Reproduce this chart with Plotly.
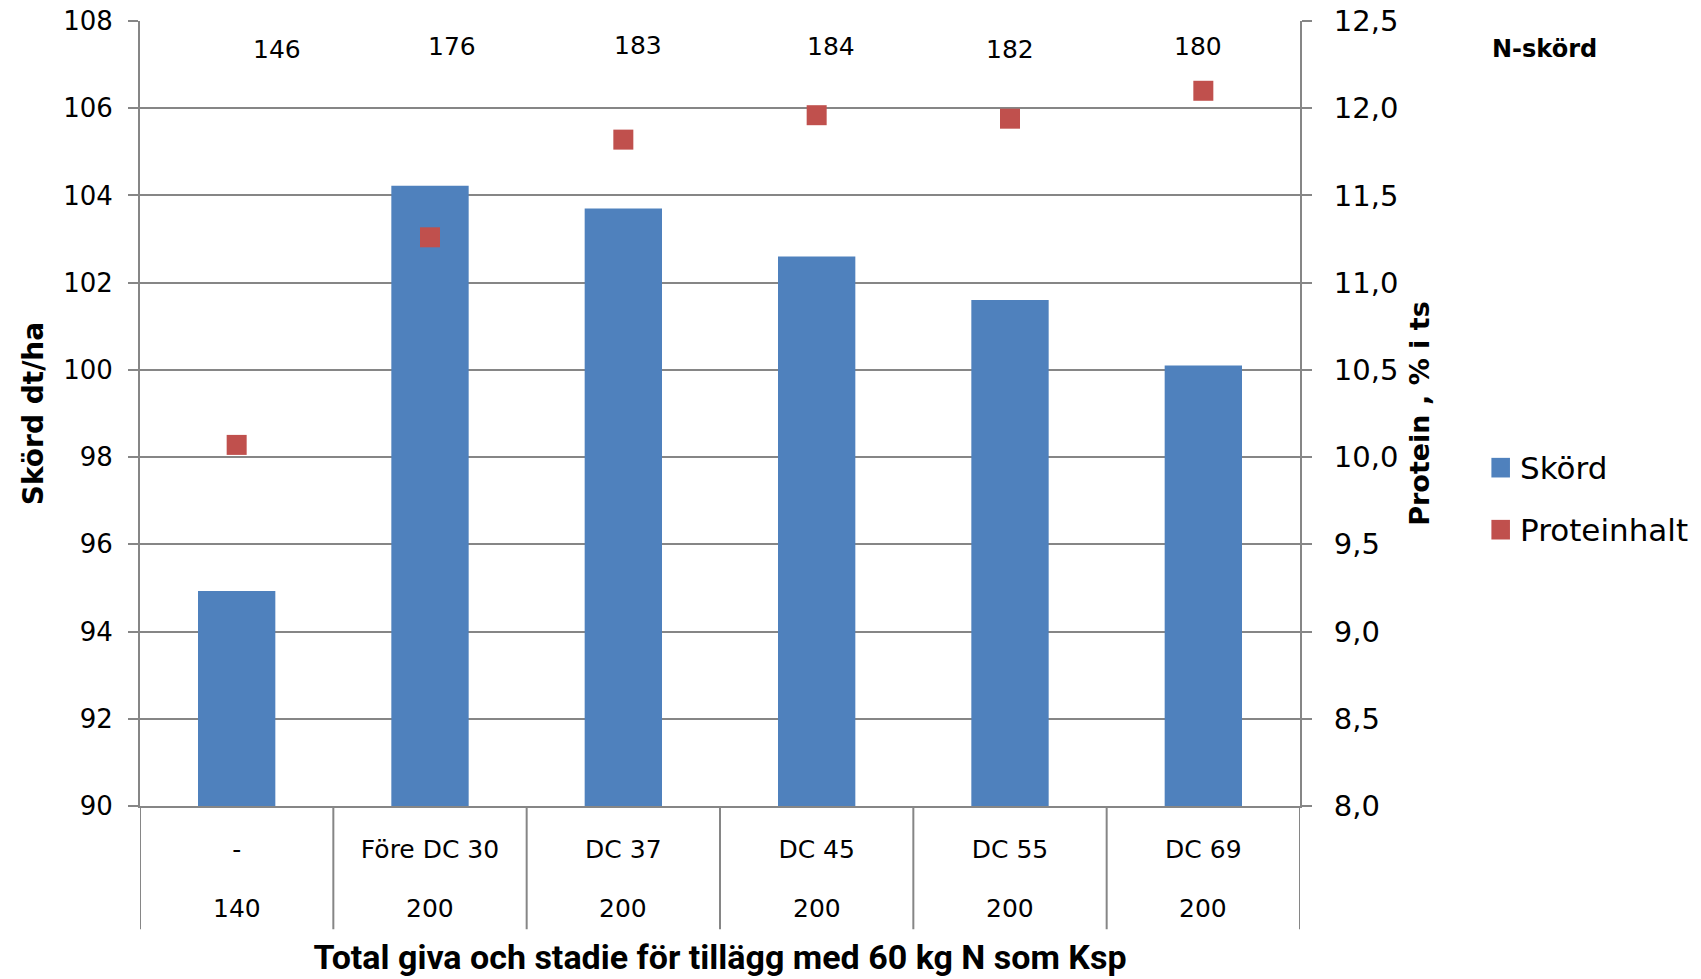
import plotly.graph_objects as go

# Behandlingar: stadie för tillägg och total N-giva (kg N/ha)
stadie = ["-", "Före DC 30", "DC 37", "DC 45", "DC 55", "DC 69"]
total_giva = ["140", "200", "200", "200", "200", "200"]

# Skörd (dt/ha), proteinhalt (% i ts) och N-skörd (kg N/ha)
skord = [94.93, 104.22, 103.7, 102.6, 101.6, 100.1]
proteinhalt = [10.07, 11.26, 11.82, 11.96, 11.94, 12.10]
n_skord = [146, 176, 183, 184, 182, 180]

# Placering (px) av N-skörd-etiketterna relativt kategorimitten / diagramtoppen
etikett_dx = [40, 22, 15, 14, 0, -5]
etikett_dy = [-28, -25, -24, -25, -28, -25]

FONT = "DejaVu Sans"
GRID = "#868686"
BLUE = "#4F81BD"
RED = "#C0504D"

x = list(range(len(stadie)))

fig = go.Figure()
fig.add_trace(go.Bar(
    x=x, y=skord, name="Skörd", marker=dict(color=BLUE, line=dict(width=0)),
    yaxis="y", showlegend=False,
))
fig.add_trace(go.Scatter(
    x=x, y=proteinhalt, name="Proteinhalt", mode="markers",
    marker=dict(symbol="square", size=20, color=RED, line=dict(width=0)),
    yaxis="y2", showlegend=False,
))

annotations = []
# N-skörd-etiketter ovanför staplarna
for i, v in enumerate(n_skord):
    annotations.append(dict(
        x=i, y=1, xref="x", yref="paper", text=str(v), showarrow=False,
        xshift=etikett_dx[i], yshift=etikett_dy[i], yanchor="middle",
        font=dict(family=FONT, size=25, color="black"),
    ))
# Andra raden med kategorietiketter: total giva
for i, v in enumerate(total_giva):
    annotations.append(dict(
        x=i, y=0, xref="x", yref="paper", text=v, showarrow=False,
        yshift=-102, yanchor="middle",
        font=dict(family=FONT, size=25, color="black"),
    ))
annotations.append(dict(
    x=1.1635, y=1, xref="paper", yref="paper", text="<b>N-skörd</b>", showarrow=False,
    xanchor="left", yanchor="middle", yshift=-28,
    font=dict(family=FONT, size=24, color="black"),
))

# Vertikala avdelare mellan kategorierna under x-axeln
shapes = []
for k in range(len(stadie) + 1):
    shapes.append(dict(
        type="line", xref="x", yref="paper", x0=k - 0.5, x1=k - 0.5,
        y0=0, y1=-0.157, line=dict(color=GRID, width=2),
    ))

# Förklaring: färgruta + serienamn
legend_items = [("Skörd", BLUE, 0.431), ("Proteinhalt", RED, 0.352)]
for name, color, ly in legend_items:
    shapes.append(dict(
        type="rect", xref="paper", yref="paper",
        x0=1.165, x1=1.181, y0=ly - 0.0125, y1=ly + 0.0125,
        fillcolor=color, line=dict(width=0),
    ))
    annotations.append(dict(
        x=1.188, y=ly, xref="paper", yref="paper", text=name, showarrow=False,
        xanchor="left", yanchor="middle",
        font=dict(family=FONT, size=31, color="black"),
    ))

fig.update_layout(
    width=1701, height=979,
    margin=dict(l=140, r=401, t=21, b=173, autoexpand=False),
    paper_bgcolor="white", plot_bgcolor="white",
    separators=", ",
    bargap=0.6,
    showlegend=False,
    font=dict(family=FONT, size=26, color="black"),
    xaxis=dict(
        type="linear", range=[-0.5, len(stadie) - 0.5], automargin=False,
        tickmode="array", tickvals=x, ticktext=stadie,
        ticks="", showgrid=False, zeroline=False,
        showline=True, linecolor=GRID, linewidth=2,
        tickfont=dict(family=FONT, size=25),
        ticklabelstandoff=20,
        title=dict(text="<b>Total giva och stadie för tillägg med 60 kg N som Ksp</b>",
                   font=dict(family="Roboto", size=34), standoff=82),
    ),
    yaxis=dict(
        range=[90, 108], dtick=2, tick0=90, automargin=False,
        showgrid=True, gridcolor=GRID, gridwidth=2,
        showline=True, linecolor=GRID, linewidth=2,
        ticks="outside", ticklen=10, tickcolor=GRID, tickwidth=2,
        zeroline=False, ticklabelstandoff=10,
        tickfont=dict(family=FONT, size=26),
        title=dict(text="<b>Skörd dt/ha</b>", font=dict(family=FONT, size=28), standoff=11),
    ),
    yaxis2=dict(
        range=[8, 12.5], dtick=0.5, tick0=8, tickformat=".1f", automargin=False,
        overlaying="y", side="right",
        showgrid=False, zeroline=False,
        showline=True, linecolor=GRID, linewidth=2,
        ticks="outside", ticklen=10, tickcolor=GRID, tickwidth=2,
        ticklabelstandoff=16,
        tickfont=dict(family=FONT, size=29),
        title=dict(text="<b>Protein , % i ts</b>", font=dict(family=FONT, size=27), standoff=13),
    ),
    annotations=annotations,
    shapes=shapes,
)

fig.write_html("out.html")
